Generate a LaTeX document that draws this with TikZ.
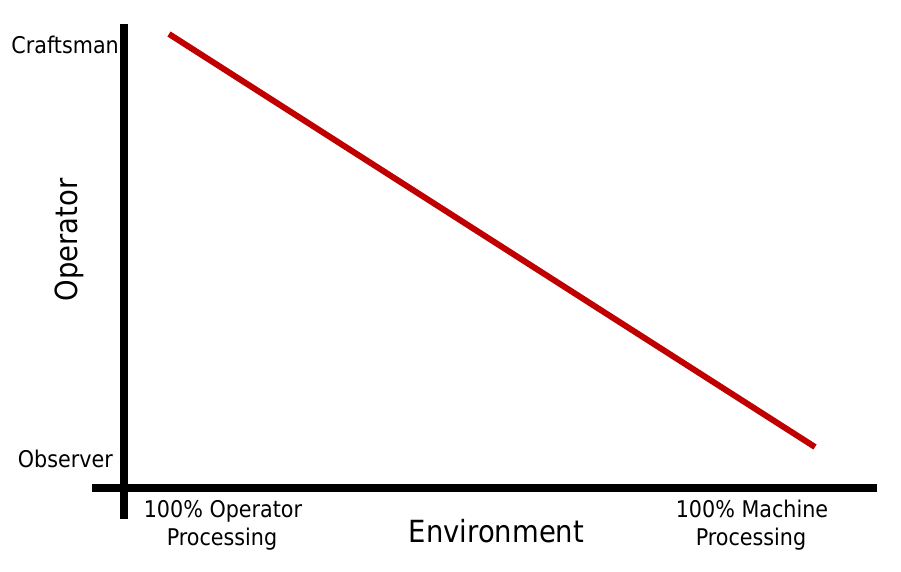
\documentclass[tikz,border=0pt]{standalone}
\usepackage{fontspec}
\setmainfont{DejaVu Sans Condensed}
\definecolor{trendred}{HTML}{C00000}
\begin{document}
\begin{tikzpicture}[x=1pt,y=-1pt,
  axis/.style={line width=8pt,black,line cap=butt},
  trend/.style={line width=6pt,trendred,line cap=butt},
  lbl/.style={inner sep=0pt,font=\fontsize{23}{27}\selectfont},
  big/.style={inner sep=0pt,font=\fontsize{30.5}{36}\selectfont}]
\useasboundingbox[fill=white] (0,0) rectangle (901,571);
% axes
\coordinate (ytop) at (124,24);
\coordinate (ybot) at (124,519);
\coordinate (xleft) at (92,488);
\coordinate (xright) at (877,488);
\draw[axis] (ytop) -- (ybot);
\draw[axis] (xleft) -- (xright);
% trend line
\coordinate (tstart) at (169,34);
\coordinate (tend) at (815,447);
\draw[trend] (tstart) -- (tend);
% labels
\node[lbl,anchor=base east] (craft) at (119,53) {Craftsman};
\node[lbl,anchor=base east] (obs) at (113,467) {Observer};
\node[lbl,anchor=base] (op1) at (223,517) {100\% Operator};
\node[lbl,anchor=base] (op2) at (222,545) {Processing};
\node[lbl,anchor=base] (ma1) at (752,517) {100\% Machine};
\node[lbl,anchor=base] (ma2) at (751,545) {Processing};
\node[big,anchor=base] (env) at (496.5,542) {Environment};
\node[big,anchor=base,rotate=90] (oper) at (77,240) {Operator};
\end{tikzpicture}
\end{document}
